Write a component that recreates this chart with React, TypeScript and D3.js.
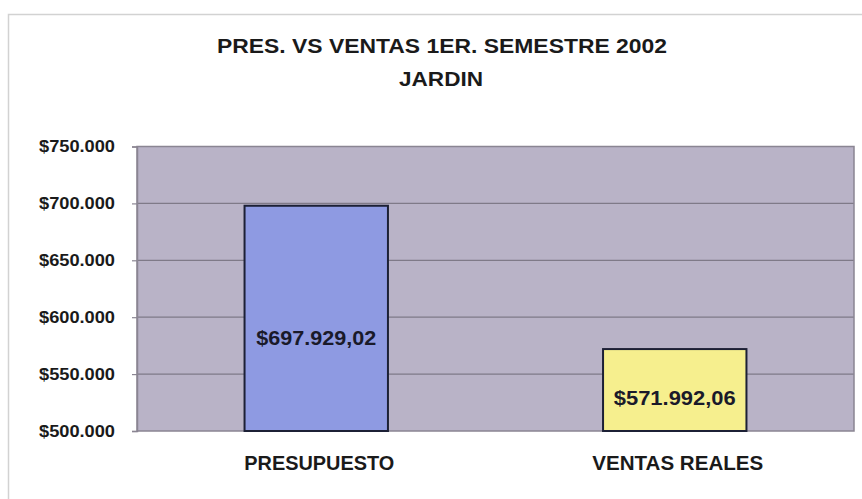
import React, { useEffect, useRef } from 'react';
import * as d3 from 'd3';

// Chart data
const categories = ['PRESUPUESTO', 'VENTAS REALES'];
const values = [697929.02, 571992.06];
const barColors = ['#8e9ae2', '#f6ef8e'];
const yTicks = [500000, 550000, 600000, 650000, 700000, 750000];
const titleLines = ['PRES. VS VENTAS 1ER. SEMESTRE 2002', 'JARDIN'];

const locale = d3.formatLocale({
    decimal: ',',
    thousands: '.',
    grouping: [3],
    currency: ['$', '']
});
const fmtTick = locale.format('$,.0f');
const fmtValue = locale.format('$,.2f');

const App: React.FC = () => {
    const svgRef = useRef<SVGSVGElement>(null);
    const width = 862;
    const height = 499;

    useEffect(() => {
        if (!svgRef.current) return;
        const svg = d3.select(svgRef.current);
        svg.selectAll('*').remove();

        const font = 'Arial, "Liberation Sans", sans-serif';
        const plot = { left: 137, right: 854, top: 146.5, bottom: 431 };

        // background + outer frame
        svg.append('rect').attr('width', width).attr('height', height).attr('fill', '#ffffff');
        svg.append('rect')
            .attr('x', 8.5).attr('y', 14.5)
            .attr('width', 900).attr('height', 600)
            .attr('fill', 'none')
            .attr('stroke', '#d2d2d2')
            .attr('stroke-width', 1.5);

        // titles
        const titleWidths = [450, 84];
        const titleY = [53, 86];
        titleLines.forEach((t, i) => {
            svg.append('text')
                .attr('x', i === 0 ? 442 : 441)
                .attr('y', titleY[i])
                .attr('text-anchor', 'middle')
                .attr('font-family', font)
                .attr('font-size', 20)
                .attr('font-weight', 'bold')
                .attr('fill', '#1a1a1a')
                .attr('textLength', titleWidths[i])
                .attr('lengthAdjust', 'spacingAndGlyphs')
                .text(t);
        });

        const x = d3.scaleBand<string>()
            .domain(categories)
            .range([plot.left, plot.right])
            .paddingInner(0.6)
            .paddingOuter(0.3);

        const y = d3.scaleLinear()
            .domain([500000, 750000])
            .range([plot.bottom, plot.top]);

        // plot area
        svg.append('rect')
            .attr('x', plot.left).attr('y', plot.top)
            .attr('width', plot.right - plot.left)
            .attr('height', plot.bottom - plot.top)
            .attr('fill', '#b9b3c7');

        // gridlines
        svg.append('g')
            .selectAll('line')
            .data(yTicks.slice(1, -1))
            .enter()
            .append('line')
            .attr('x1', plot.left).attr('x2', plot.right)
            .attr('y1', d => y(d)).attr('y2', d => y(d))
            .attr('stroke', '#7f7a88')
            .attr('stroke-width', 1.2);

        svg.append('rect')
            .attr('x', plot.left).attr('y', plot.top)
            .attr('width', plot.right - plot.left)
            .attr('height', plot.bottom - plot.top)
            .attr('fill', 'none')
            .attr('stroke', '#8a8592')
            .attr('stroke-width', 1.5);

        // y axis
        const yAxis = svg.append('g')
            .attr('transform', `translate(${plot.left},0)`)
            .call(d3.axisLeft(y).tickValues(yTicks).tickSize(5).tickPadding(17).tickFormat(d => fmtTick(d as number)));
        yAxis.select('.domain').attr('stroke', '#8a8592').attr('stroke-width', 1.5);
        yAxis.selectAll('.tick line').attr('stroke', '#8a8592').attr('stroke-width', 1.2);
        yAxis.selectAll('.tick text')
            .attr('font-family', font)
            .attr('font-size', 16.5)
            .attr('font-weight', 'bold')
            .attr('fill', '#1a1a1a')
            .attr('textLength', 76)
            .attr('lengthAdjust', 'spacingAndGlyphs');

        // bars
        svg.append('g')
            .selectAll('rect')
            .data(values)
            .enter()
            .append('rect')
            .attr('x', (d, i) => x(categories[i]) as number)
            .attr('y', d => y(d))
            .attr('width', x.bandwidth())
            .attr('height', d => plot.bottom - y(d))
            .attr('fill', (d, i) => barColors[i])
            .attr('stroke', '#1c2035')
            .attr('stroke-width', 2);

        // value labels
        const valueWidths = [120, 122];
        svg.append('g')
            .selectAll('text')
            .data(values)
            .enter()
            .append('text')
            .attr('x', (d, i) => (x(categories[i]) as number) + x.bandwidth() / 2)
            .attr('y', d => y(d) + (plot.bottom - y(d)) * 0.586 + 7.5)
            .attr('text-anchor', 'middle')
            .attr('font-family', font)
            .attr('font-size', 20)
            .attr('font-weight', 'bold')
            .attr('fill', '#1a1a2a')
            .attr('textLength', (d, i) => valueWidths[i])
            .attr('lengthAdjust', 'spacingAndGlyphs')
            .text(d => fmtValue(d));

        // category labels
        const catWidths = [150, 171];
        svg.append('g')
            .selectAll('text')
            .data(categories)
            .enter()
            .append('text')
            .attr('x', d => (x(d) as number) + x.bandwidth() / 2 + 3)
            .attr('y', 470)
            .attr('text-anchor', 'middle')
            .attr('font-family', font)
            .attr('font-size', 20)
            .attr('font-weight', 'bold')
            .attr('fill', '#1a1a1a')
            .attr('textLength', (d, i) => catWidths[i])
            .attr('lengthAdjust', 'spacingAndGlyphs')
            .text(d => d);
    }, []);

    return (
        <svg
            ref={svgRef}
            width={width}
            height={height}
            style={{ position: 'absolute', left: 0, top: 0, display: 'block' }}
        />
    );
};

export default App;
